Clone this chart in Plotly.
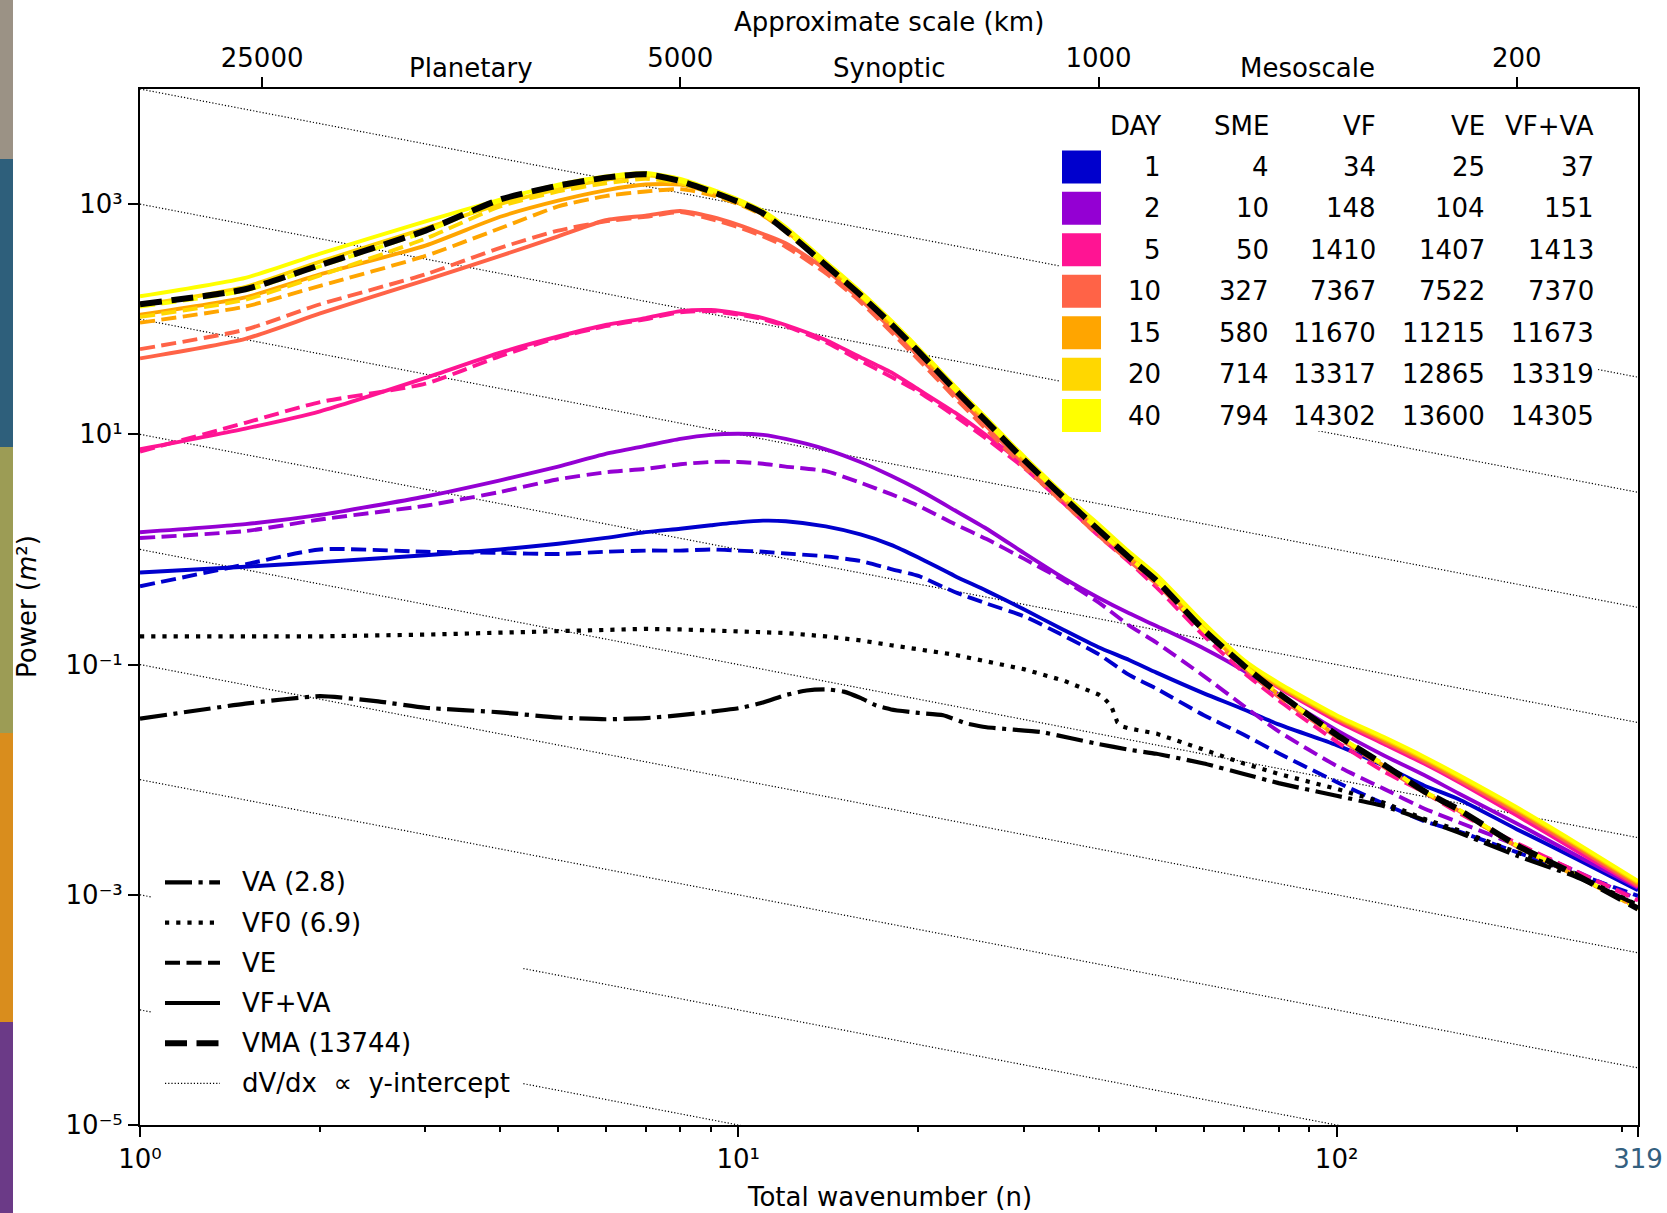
import math
import numpy as np
import plotly.graph_objects as go

# ---------------- data ----------------
# total wavenumber sample points
n_grid = [1, 1.5, 2, 3, 4, 5, 6, 7, 8, 9, 10, 11, 12, 14, 16, 18, 20, 23, 26,
          30, 35, 40, 45, 50, 60, 70, 80, 100, 120, 140, 160, 200, 250, 319]

# log10 of power (m^2) on n_grid; solid = VF+VA, dashed = VE
day1_vfva = [-0.20, -0.15, -0.11, -0.05, 0.00, 0.05, 0.10, 0.15, 0.18, 0.21, 0.235, 0.25, 0.245, 0.20, 0.13, 0.04, -0.07,
             -0.23, -0.36, -0.52, -0.70, -0.85, -0.96, -1.07, -1.25, -1.39, -1.52, -1.70, -1.88, -2.05, -2.17, -2.43, -2.68, -2.96]
day1_ve = [-0.32, -0.13, 0.00, -0.02, -0.03, -0.04, -0.02, -0.01, -0.01, 0.00, -0.01, -0.02, -0.035, -0.06, -0.10, -0.17, -0.23,
           -0.37, -0.47, -0.58, -0.75, -0.91, -1.09, -1.21, -1.44, -1.61, -1.77, -2.02, -2.21, -2.36, -2.45, -2.63, -2.81, -3.01]
day2_vfva = [0.15, 0.22, 0.30, 0.46, 0.60, 0.72, 0.83, 0.90, 0.96, 0.995, 1.005, 0.995, 0.96, 0.87, 0.76, 0.64, 0.52,
             0.34, 0.18, -0.03, -0.25, -0.42, -0.555, -0.665, -0.86, -1.055, -1.26, -1.57, -1.79, -1.96, -2.12, -2.38, -2.65, -2.94]
day2_ve = [0.10, 0.16, 0.26, 0.38, 0.50, 0.61, 0.67, 0.70, 0.74, 0.76, 0.76, 0.745, 0.72, 0.68, 0.58, 0.48, 0.38,
           0.22, 0.09, -0.08, -0.27, -0.46, -0.66, -0.81, -1.10, -1.36, -1.58, -1.88, -2.08, -2.25, -2.37, -2.57, -2.79, -3.04]
day5_vfva = [0.87, 1.05, 1.20, 1.49, 1.71, 1.85, 1.95, 2.01, 2.07, 2.08, 2.05, 2.01, 1.95, 1.82, 1.67, 1.54, 1.39,
             1.19, 0.99, 0.74, 0.43, 0.15, -0.07, -0.26, -0.68, -1.00, -1.20, -1.49, -1.69, -1.86, -2.02, -2.31, -2.61, -2.93]
day5_ve = [0.85, 1.10, 1.28, 1.44, 1.68, 1.84, 1.94, 2.00, 2.06, 2.07, 2.04, 2.00, 1.94, 1.80, 1.64, 1.50, 1.37,
           1.16, 0.96, 0.71, 0.40, 0.12, -0.11, -0.33, -0.75, -1.07, -1.31, -1.67, -1.93, -2.11, -2.29, -2.55, -2.79, -3.05]
day10_vfva = [1.66, 1.83, 2.05, 2.34, 2.55, 2.72, 2.86, 2.90, 2.94, 2.89, 2.82, 2.74, 2.66, 2.43, 2.17, 1.92, 1.68,
              1.35, 1.07, 0.75, 0.43, 0.15, -0.06, -0.25, -0.67, -0.99, -1.19, -1.47, -1.67, -1.84, -2.00, -2.28, -2.58, -2.92]
day10_ve = [1.74, 1.91, 2.13, 2.39, 2.62, 2.77, 2.85, 2.89, 2.93, 2.87, 2.80, 2.72, 2.63, 2.40, 2.15, 1.89, 1.65,
            1.32, 1.04, 0.72, 0.40, 0.12, -0.10, -0.30, -0.71, -1.03, -1.28, -1.63, -1.89, -2.11, -2.27, -2.58, -2.83, -3.11]
day15_vfva = [2.04, 2.19, 2.39, 2.64, 2.89, 3.03, 3.12, 3.17, 3.17, 3.10, 3.01, 2.91, 2.77, 2.47, 2.21, 1.96, 1.72,
              1.40, 1.12, 0.79, 0.46, 0.20, -0.04, -0.24, -0.66, -0.98, -1.18, -1.46, -1.65, -1.82, -1.98, -2.26, -2.56, -2.90]
day15_ve = [1.97, 2.11, 2.29, 2.55, 2.79, 2.98, 3.07, 3.11, 3.13, 3.08, 3.00, 2.90, 2.76, 2.46, 2.20, 1.95, 1.71,
            1.39, 1.11, 0.78, 0.45, 0.17, -0.07, -0.27, -0.69, -1.01, -1.26, -1.62, -1.88, -2.11, -2.27, -2.58, -2.83, -3.12]
day20_vfva = [2.12, 2.28, 2.50, 2.79, 3.00, 3.13, 3.21, 3.25, 3.21, 3.12, 3.03, 2.93, 2.79, 2.49, 2.23, 1.98, 1.74,
              1.41, 1.13, 0.80, 0.47, 0.21, -0.03, -0.23, -0.65, -0.97, -1.17, -1.45, -1.64, -1.81, -1.97, -2.25, -2.55, -2.89]
day20_ve = [2.02, 2.17, 2.38, 2.70, 2.98, 3.11, 3.18, 3.22, 3.18, 3.10, 3.01, 2.91, 2.77, 2.47, 2.21, 1.96, 1.72,
            1.39, 1.11, 0.78, 0.45, 0.17, -0.07, -0.27, -0.70, -1.01, -1.25, -1.61, -1.87, -2.10, -2.26, -2.57, -2.82, -3.12]
day40_vfva = [2.20, 2.36, 2.57, 2.85, 3.04, 3.17, 3.24, 3.27, 3.22, 3.13, 3.04, 2.94, 2.80, 2.50, 2.24, 1.99, 1.75,
              1.42, 1.14, 0.81, 0.48, 0.22, -0.02, -0.22, -0.64, -0.96, -1.16, -1.44, -1.63, -1.80, -1.96, -2.24, -2.54, -2.88]
day40_ve = [2.11, 2.25, 2.46, 2.76, 3.03, 3.16, 3.23, 3.26, 3.20, 3.11, 3.02, 2.92, 2.77, 2.47, 2.21, 1.96, 1.72,
            1.39, 1.11, 0.78, 0.45, 0.17, -0.07, -0.27, -0.70, -1.01, -1.25, -1.61, -1.87, -2.10, -2.26, -2.57, -2.82, -3.12]
vma = [2.13, 2.26, 2.47, 2.77, 3.04, 3.16, 3.23, 3.26, 3.20, 3.11, 3.02, 2.92, 2.77, 2.47, 2.21, 1.96, 1.72,
       1.39, 1.11, 0.78, 0.45, 0.17, -0.07, -0.27, -0.70, -1.01, -1.25, -1.61, -1.87, -2.10, -2.26, -2.57, -2.82, -3.12]

va_n = [1, 1.5, 2, 2.5, 3, 4, 5, 6, 7, 8, 9, 10, 11, 12, 13, 14, 15, 16, 17, 18, 20, 22, 24, 26, 28,
        32, 36, 40, 45, 50, 60, 70, 80, 100, 120, 140, 160, 200, 250, 319]
va = [-1.47, -1.34, -1.275, -1.32, -1.375, -1.415, -1.46, -1.475, -1.465, -1.44, -1.41, -1.38, -1.33, -1.265,
      -1.225, -1.215, -1.235, -1.29, -1.355, -1.39, -1.42, -1.44, -1.51, -1.545, -1.56, -1.585, -1.64, -1.69,
      -1.74, -1.775, -1.86, -1.95, -2.03, -2.14, -2.23, -2.35, -2.46, -2.66, -2.84, -3.09]

vf0_n = [1, 2, 3, 4, 5, 6, 7, 8, 9, 10, 12, 14, 16, 18, 20, 23, 26, 30, 35, 38, 40, 41, 42, 43, 44, 45,
         50, 60, 70, 80, 100, 120, 140, 160, 200, 250, 319]
vf0 = [-0.755, -0.755, -0.74, -0.72, -0.705, -0.695, -0.69, -0.695, -0.705, -0.712, -0.726, -0.755, -0.79,
       -0.832, -0.87, -0.915, -0.973, -1.04, -1.14, -1.21, -1.26, -1.30, -1.36, -1.50, -1.54, -1.555,
       -1.60, -1.74, -1.86, -1.95, -2.08, -2.20, -2.34, -2.44, -2.63, -2.82, -3.09]

# reference lines dV/dx: V = C / n, log10(C)
ref_log_c = [4, 3, 2, 1, 0, -1, -2, -3, -4]

# table legend
days = [1, 2, 5, 10, 15, 20, 40]
sme = [4, 10, 50, 327, 580, 714, 794]
vf = [34, 148, 1410, 7367, 11670, 13317, 14302]
ve = [25, 104, 1407, 7522, 11215, 12865, 13600]
vf_va = [37, 151, 1413, 7370, 11673, 13319, 14305]
day_colors = ['#0000cd', '#9400d3', '#ff1493', '#ff6347', '#ffa500', '#ffd700', '#ffff00']

style_labels = ['VA (2.8)', 'VF0 (6.9)', 'VE', 'VF+VA', 'VMA (13744)',
                'dV/dx\u00a0\u00a0\u221d\u00a0\u00a0y-intercept']

scale_km = [25000, 5000, 1000, 200]
scale_regimes = ['Planetary', 'Synoptic', 'Mesoscale']
x_ticks = [1, 10, 100, 319]
x_ticktext = ['10\u2070', '10\u00b9', '10\u00b2', '<span style="color:#34607f">319</span>']
x_minor = [2, 3, 4, 5, 6, 7, 8, 9, 20, 30, 40, 50, 60, 70, 80, 90, 200, 300]
y_ticks_exp = [-5, -3, -1, 1, 3]
y_ticktext = ['10\u207b\u2075', '10\u207b\u00b3', '10\u207b\u00b9', '10\u00b9', '10\u00b3']

# ---------------- layout geometry ----------------
W, H = 1667, 1213
L, R, T, B = 140, 1638, 89, 1125
FONT = "DejaVu Sans"
FS = 26

LW = 3.9                      # coloured line width
DASH = '15px,6.5px'           # VE dashes
VMA_W, VMA_DASH = 6, '22px,9.5px'
VA_W, VA_DASH = 4.2, '27px,6.5px,4.2px,6.5px'
VF0_W, VF0_DASH = 4.2, '4.2px,7px'
REF_W, REF_DASH = 1.2, '1.2px,2px'


def px(X):
    return (X - L) / (R - L)


def py(Y):
    return (B - Y) / (B - T)


fig = go.Figure()

# reference dotted lines
n_ends = [1, 319]
for c in ref_log_c:
    fig.add_trace(go.Scatter(x=n_ends, y=[10 ** c / n for n in n_ends], mode='lines',
                             line=dict(color='black', width=REF_W, dash=REF_DASH),
                             hoverinfo='skip', showlegend=False))

solids = [day1_vfva, day2_vfva, day5_vfva, day10_vfva, day15_vfva, day20_vfva, day40_vfva]
dashes = [day1_ve, day2_ve, day5_ve, day10_ve, day15_ve, day20_ve, day40_ve]
for col, s, d in zip(day_colors, solids, dashes):
    fig.add_trace(go.Scatter(x=n_grid, y=10 ** np.array(s), mode='lines',
                             line=dict(color=col, width=LW, shape='spline', smoothing=0.6),
                             showlegend=False))
    fig.add_trace(go.Scatter(x=n_grid, y=10 ** np.array(d), mode='lines',
                             line=dict(color=col, width=LW, dash=DASH, shape='spline', smoothing=0.6),
                             showlegend=False))

fig.add_trace(go.Scatter(x=va_n, y=10 ** np.array(va), mode='lines',
                         line=dict(color='black', width=VA_W, dash=VA_DASH, shape='spline', smoothing=0.5),
                         showlegend=False))
fig.add_trace(go.Scatter(x=vf0_n, y=10 ** np.array(vf0), mode='lines',
                         line=dict(color='black', width=VF0_W, dash=VF0_DASH),
                         showlegend=False))
fig.add_trace(go.Scatter(x=n_grid, y=10 ** np.array(vma), mode='lines',
                         line=dict(color='black', width=VMA_W, dash=VMA_DASH, shape='spline', smoothing=0.6),
                         showlegend=False))
# anchor traces for the top axis and the minor-tick axis
fig.add_trace(go.Scatter(x=[8], y=[1], xaxis='x2', yaxis='y', mode='markers',
                         marker=dict(opacity=0), hoverinfo='skip', showlegend=False))
fig.add_trace(go.Scatter(x=[8], y=[1], xaxis='x3', yaxis='y', mode='markers',
                         marker=dict(opacity=0), hoverinfo='skip', showlegend=False))

xr = [0, math.log10(319)]
axis_common = dict(ticks='outside', ticklen=10, tickwidth=2, tickcolor='black', showline=True,
                   linewidth=2, linecolor='black', showgrid=False, zeroline=False, automargin=False,
                   tickfont=dict(family=FONT, size=FS, color='black'))

fig.update_layout(
    width=W, height=H,
    margin=dict(l=L, r=W - R, t=T, b=H - B, autoexpand=False),
    paper_bgcolor='white', plot_bgcolor='white', showlegend=False,
    font=dict(family=FONT, size=FS, color='black'),
    xaxis=dict(type='log', range=xr, tickmode='array', tickvals=x_ticks, ticktext=x_ticktext,
               **axis_common),
    xaxis2=dict(type='log', overlaying='x', side='top', range=xr, tickmode='array',
                tickvals=[40000 / k for k in scale_km], ticktext=[str(k) for k in scale_km],
                **axis_common),
    xaxis3=dict(type='log', overlaying='x', side='bottom', range=xr, tickmode='array',
                tickvals=x_minor, showticklabels=False, ticks='outside', ticklen=6, tickwidth=1.5,
                tickcolor='black', showline=False, showgrid=False, zeroline=False, automargin=False),
    yaxis=dict(type='log', range=[-5, 4], tickmode='array', tickvals=[10 ** e for e in y_ticks_exp],
               ticktext=y_ticktext, mirror=True, **axis_common),
)

shapes = []
annotations = []

# coloured strip at the far left of the image
strip_cols = ['#9b9285', '#2e5f7b', '#9c9c55', '#d98d1d', '#6b3a87']
strip_edges = [0, 159, 447, 733, 1022, 1213]
for i, c in enumerate(strip_cols):
    shapes.append(dict(type='rect', xref='paper', yref='paper', x0=px(0), x1=px(13),
                       y0=py(strip_edges[i + 1]), y1=py(strip_edges[i]), fillcolor=c,
                       line=dict(width=0), layer='above'))

# legend boxes (white, hide reference lines)
shapes.append(dict(type='rect', xref='paper', yref='paper', x0=px(1059), x1=px(1597),
                   y0=py(431), y1=py(100), fillcolor='white', line=dict(width=0), layer='above'))
shapes.append(dict(type='rect', xref='paper', yref='paper', x0=px(152), x1=px(522),
                   y0=py(1112), y1=py(856), fillcolor='white', line=dict(width=0), layer='above'))

# table legend
col_right = [1163, 1271, 1378, 1487, 1596]
header = ['DAY', 'SME', 'VF', 'VE', 'VF+VA']
row_y0, row_dy = 166.9, 41.45
for j, h in enumerate(header):
    annotations.append(dict(text=h, x=px(col_right[j]), y=py(125.5), xref='paper', yref='paper',
                            xanchor='right', yanchor='middle', showarrow=False))
for i in range(len(days)):
    yc = row_y0 + i * row_dy
    shapes.append(dict(type='rect', xref='paper', yref='paper', x0=px(1062), x1=px(1101),
                       y0=py(yc + 16.5), y1=py(yc - 16.5), fillcolor=day_colors[i],
                       line=dict(width=0), layer='above'))
    vals = [days[i], sme[i], vf[i], ve[i], vf_va[i]]
    for j, v in enumerate(vals):
        annotations.append(dict(text=str(v), x=px(col_right[j]), y=py(yc), xref='paper', yref='paper',
                                xanchor='right', yanchor='middle', showarrow=False))

# line-style legend
leg_y0, leg_dy = 882.4, 40.2
leg_styles = [dict(width=VA_W, dash=VA_DASH), dict(width=VF0_W, dash=VF0_DASH),
              dict(width=LW, dash=DASH), dict(width=LW, dash='solid'),
              dict(width=VMA_W, dash=VMA_DASH), dict(width=REF_W, dash=REF_DASH)]
for i, lab in enumerate(style_labels):
    yc = leg_y0 + i * leg_dy
    shapes.append(dict(type='line', xref='paper', yref='paper', x0=px(165), x1=px(220),
                       y0=py(yc), y1=py(yc), line=dict(color='black', **leg_styles[i]), layer='above'))
    annotations.append(dict(text=lab, x=px(240), y=py(yc), xref='paper', yref='paper',
                            xanchor='left', yanchor='middle', showarrow=False))

# regime labels on the top axis (geometric mid-points of the scale ticks)
n_ticks = [40000 / k for k in scale_km]
for i, lab in enumerate(scale_regimes):
    nm = math.sqrt(n_ticks[i] * n_ticks[i + 1])
    annotations.append(dict(text=lab, x=math.log10(nm) / xr[1], y=py(68), xref='paper', yref='paper',
                            xanchor='center', yanchor='middle', showarrow=False))

# axis titles
annotations.append(dict(text='Approximate scale (km)', x=0.5, y=py(22), xref='paper', yref='paper',
                        xanchor='center', yanchor='middle', showarrow=False))
annotations.append(dict(text='Total wavenumber (n)', x=0.5, y=py(1197), xref='paper', yref='paper',
                        xanchor='center', yanchor='middle', showarrow=False))
annotations.append(dict(text='Power (<i>m</i>\u00b2)', x=px(27), y=0.5, xref='paper', yref='paper',
                        xanchor='center', yanchor='middle', textangle=-90, showarrow=False))

fig.update_layout(shapes=shapes, annotations=annotations)
fig.write_html("out.html")
